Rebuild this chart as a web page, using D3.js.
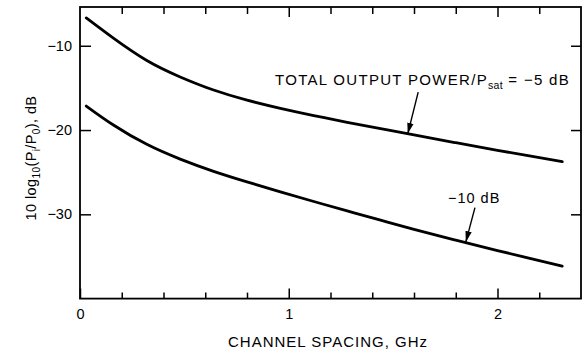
<!DOCTYPE html>
<html>
<head>
<meta charset="utf-8">
<script src="https://cdn.jsdelivr.net/npm/d3@7"></script>
<style>
  body { margin: 0; background: #fff; }
  svg { display: block; font-family: "Liberation Sans", Arial, Helvetica, sans-serif; }
</style>
</head>
<body>
<div id="chart"></div>
<script>
// channel spacing (GHz)
const spacing = [0.03, 0.16, 0.32, 0.48, 0.64, 0.8, 0.96, 1.12, 1.28, 1.44, 1.6, 1.8, 2.0, 2.16, 2.31];
// 10 log10(Pi/P0), dB for each total output power / Psat
const minus5dB = [-6.7, -9.1, -11.75, -13.7, -15.25, -16.45, -17.42, -18.28, -19.08, -19.84, -20.58, -21.5, -22.4, -23.1, -23.75];
const minus10dB = [-17.15, -19.4, -21.7, -23.45, -24.9, -26.15, -27.33, -28.48, -29.6, -30.7, -31.78, -33.07, -34.3, -35.25, -36.15];

const xTicks = [0, 0.2, 0.4, 0.6, 0.8, 1, 1.2, 1.4, 1.6, 1.8, 2, 2.2];
const xLabels = [0, 1, 2];
const yTicks = [-10, -20, -30];

const width = 584, height = 353;
const plot = { left: 80, right: 581, top: 7, bottom: 298.6 };

const x = d3.scaleLinear().domain([0, 2.4]).range([plot.left, plot.right]);
const y = d3.scaleLinear().domain([-40, -5.4]).range([plot.bottom, plot.top]);

const svg = d3.select('#chart').append('svg')
    .attr('width', width)
    .attr('height', height);

svg.append('defs').append('marker')
    .attr('id', 'arrowhead')
    .attr('markerUnits', 'userSpaceOnUse')
    .attr('markerWidth', 12)
    .attr('markerHeight', 8)
    .attr('refX', 11)
    .attr('refY', 4)
    .attr('orient', 'auto')
    .append('path')
    .attr('d', 'M0,0.8 L11,4 L0,7.2 z')
    .attr('fill', '#000');

// frame
svg.append('rect')
    .attr('x', plot.left).attr('y', plot.top)
    .attr('width', plot.right - plot.left).attr('height', plot.bottom - plot.top)
    .attr('fill', 'none').attr('stroke', '#000').attr('stroke-width', 1.8);

function styleAxis(g) {
    g.select('.domain').remove();
    g.selectAll('.tick line').attr('stroke', '#000').attr('stroke-width', 1.5);
    g.selectAll('.tick text').attr('fill', '#000').attr('font-size', 14.5)
        .attr('font-family', '"Liberation Sans", Arial, sans-serif');
}

// bottom axis, ticks inward
const gx = svg.append('g')
    .attr('transform', `translate(0,${plot.bottom})`)
    .call(d3.axisBottom(x).tickValues(xTicks).tickSize(-6).tickPadding(10)
        .tickFormat(d => xLabels.includes(d) ? d3.format('d')(d) : ''));
styleAxis(gx);
gx.selectAll('.tick line').filter(d => xLabels.includes(d)).attr('y2', -10);

// top axis
const gxt = svg.append('g')
    .attr('transform', `translate(0,${plot.top})`)
    .call(d3.axisTop(x).tickValues(xTicks.filter(d => d > 0)).tickSize(-7).tickFormat(''));
styleAxis(gxt);
gxt.selectAll('.tick line').filter(d => xLabels.includes(d)).attr('y2', 10);

// left axis
const gy = svg.append('g')
    .attr('transform', `translate(${plot.left},0)`)
    .call(d3.axisLeft(y).tickValues(yTicks).tickSize(-11).tickPadding(8).tickFormat(d3.format('d')));
styleAxis(gy);

// right axis
const gyr = svg.append('g')
    .attr('transform', `translate(${plot.right},0)`)
    .call(d3.axisRight(y).tickValues(yTicks).tickSize(-10).tickFormat(''));
styleAxis(gyr);

// curves
const line = d3.line()
    .x(d => x(d[0]))
    .y(d => y(d[1]))
    .curve(d3.curveNatural);

[minus5dB, minus10dB].forEach(series => {
    svg.append('path')
        .datum(spacing.map((s, i) => [s, series[i]]))
        .attr('d', line)
        .attr('fill', 'none')
        .attr('stroke', '#000')
        .attr('stroke-width', 2.8)
        .attr('stroke-linecap', 'round');
});

// annotations
const upperLabel = svg.append('text')
    .attr('x', 275).attr('y', 85)
    .attr('font-size', 15)
    .attr('letter-spacing', 1.3);
upperLabel.append('tspan').text('TOTAL OUTPUT POWER/P');
upperLabel.append('tspan').attr('font-size', 10.5).attr('dy', 4).attr('letter-spacing', 0.3).text('sat');
upperLabel.append('tspan').attr('dy', -4).text(' =  \u22125 dB');

svg.append('line')
    .attr('x1', x(1.62)).attr('y1', y(-15.5))
    .attr('x2', x(1.57)).attr('y2', y(-20.45))
    .attr('stroke', '#000').attr('stroke-width', 1.4)
    .attr('marker-end', 'url(#arrowhead)');

svg.append('text')
    .attr('x', 448).attr('y', 203)
    .attr('font-size', 14.5)
    .attr('letter-spacing', 1.0)
    .text('\u221210 dB');

svg.append('line')
    .attr('x1', x(1.892)).attr('y1', y(-29.2))
    .attr('x2', x(1.848)).attr('y2', y(-33.3))
    .attr('stroke', '#000').attr('stroke-width', 1.4)
    .attr('marker-end', 'url(#arrowhead)');

// axis titles
svg.append('text')
    .attr('x', 328).attr('y', 347)
    .attr('text-anchor', 'middle')
    .attr('font-size', 15)
    .attr('letter-spacing', 1.0)
    .text('CHANNEL SPACING, GHz');

const yTitle = svg.append('text')
    .attr('transform', 'translate(36,158) rotate(-90)')
    .attr('text-anchor', 'middle')
    .attr('font-size', 14.5)
    .attr('letter-spacing', 0.4);
yTitle.append('tspan').text('10 log');
yTitle.append('tspan').attr('font-size', 10).attr('dy', 4).text('10');
yTitle.append('tspan').attr('dy', -4).text('(P');
yTitle.append('tspan').attr('font-size', 10).attr('dy', 4).text('i');
yTitle.append('tspan').attr('dy', -4).text('/P');
yTitle.append('tspan').attr('font-size', 10).attr('dy', 4).text('0');
yTitle.append('tspan').attr('dy', -4).text('), dB');
</script>
</body>
</html>
